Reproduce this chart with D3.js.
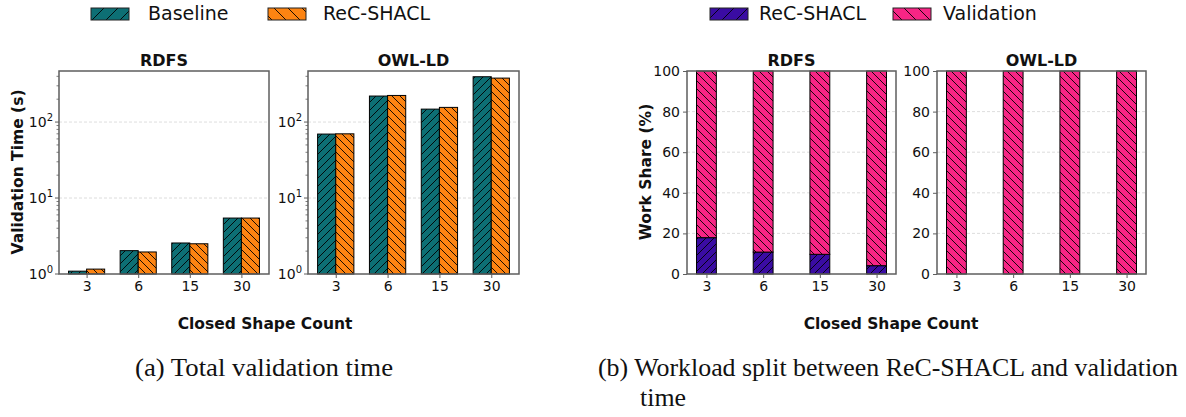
<!DOCTYPE html>
<html>
<head>
<meta charset="utf-8">
<script src="https://cdn.jsdelivr.net/npm/d3@7.9.0/dist/d3.min.js"></script>
<style>
  html, body { margin: 0; padding: 0; background: #fff; }
  svg text { font-family: "DejaVu Sans", sans-serif; fill: #111; }
  .caption { font-family: "Liberation Serif", "DejaVu Serif", serif; font-size: 25.5px; }
</style>
</head>
<body>
<svg width="1186" height="417"></svg>
<script>
// -------------------------
// Data
// -------------------------
const shapeCounts = ['3', '6', '15', '30'];

// (a) total validation time, seconds
const rdfsBaseline = [1.09, 2.03, 2.56, 5.45];
const rdfsRecShacl = [1.16, 1.95, 2.50, 5.45];
const owlBaseline = [69.5, 220, 148, 395];
const owlRecShacl = [70, 224, 156, 379];

// (b) work share, percent taken by ReC-SHACL (rest is validation)
const rdfsRecShare = [17.9, 10.8, 9.7, 4.1];
const owlRecShare = [0, 0, 0, 0];

const logTicks = [1, 10, 100];
const shareTicks = [0, 20, 40, 60, 80, 100];

// colours
const teal = '#0d6f74';
const orange = '#fd8412';
const purple = '#3a0ca3';
const pink = '#f72585';

const svg = d3.select('svg');
const defs = svg.append('defs');

// hatch patterns
function hatch(id, fill, dir, size) {
  const p = defs.append('pattern')
    .attr('id', id)
    .attr('patternUnits', 'userSpaceOnUse')
    .attr('width', size).attr('height', size);
  p.append('rect').attr('width', size).attr('height', size).attr('fill', fill);
  const s = size;
  const d = dir === '/'
    ? `M0,${s} L${s},0 M${-s / 4},${s / 4} L${s / 4},${-s / 4} M${s * 3 / 4},${s * 5 / 4} L${s * 5 / 4},${s * 3 / 4}`
    : `M0,0 L${s},${s} M${-s / 4},${s * 3 / 4} L${s / 4},${s * 5 / 4} M${s * 3 / 4},${-s / 4} L${s * 5 / 4},${s / 4}`;
  p.append('path').attr('d', d).attr('stroke', '#000').attr('stroke-width', 0.9);
}
hatch('h-teal', teal, '/', 8);
hatch('h-orange', orange, '\\', 8);
hatch('h-purple', purple, '/', 8);
hatch('h-pink', pink, '\\', 8);
hatch('l-teal', teal, '/', 14);
hatch('l-orange', orange, '\\', 14);
hatch('l-purple', purple, '/', 14);
hatch('l-pink', pink, '\\', 14);

const plotTop = 71, plotBottom = 274;
const spineColor = '#5e5e5e';

// -------------------------
// Helpers
// -------------------------
function frame(g, x0, x1, title) {
  g.append('rect')
    .attr('x', x0).attr('y', plotTop)
    .attr('width', x1 - x0).attr('height', plotBottom - plotTop)
    .attr('fill', 'none').attr('stroke', spineColor).attr('stroke-width', 1.5);
  g.append('text')
    .attr('x', (x0 + x1) / 2).attr('y', 66)
    .attr('text-anchor', 'middle')
    .style('font-size', '16px').style('font-weight', 'bold')
    .text(title);
}

function xAxis(g, x) {
  const ax = g.append('g')
    .attr('transform', `translate(0,${plotBottom})`)
    .call(d3.axisBottom(x).tickValues([0, 1, 2, 3]).tickFormat(i => shapeCounts[i]).tickSize(4).tickPadding(3));
  ax.select('.domain').remove();
  ax.selectAll('line').attr('stroke', spineColor);
  ax.selectAll('text').style('font-size', '14px').style('font-family', 'DejaVu Sans').attr('fill', '#111');
}

function grid(g, y, values, x0, x1) {
  g.selectAll(null).data(values).join('line')
    .attr('x1', x0).attr('x2', x1)
    .attr('y1', d => y(d)).attr('y2', d => y(d))
    .attr('stroke', '#d4d4d4').attr('stroke-width', 0.8)
    .attr('stroke-dasharray', '3,2');
}

// -------------------------
// (a) Total validation time
// -------------------------
const yLog = d3.scaleLog().domain([1, 470]).range([plotBottom, plotTop]);
const minorLog = [];
[1, 10, 100].forEach(dec => {
  for (let k = 2; k <= 9; k++) if (dec * k < 470) minorLog.push(dec * k);
});

function timePanel(x0, x1, title, base, rec) {
  const g = svg.append('g');
  const x = d3.scaleLinear().domain([-0.535, 3.535]).range([x0, x1]);
  const w = x(0.35) - x(0);
  grid(g, yLog, [10, 100], x0, x1);

  g.selectAll(null).data(base).join('rect')
    .attr('x', (d, i) => x(i - 0.35))
    .attr('y', d => yLog(d))
    .attr('width', w)
    .attr('height', d => plotBottom - yLog(d))
    .attr('fill', 'url(#h-teal)').attr('stroke', '#000').attr('stroke-width', 1);
  g.selectAll(null).data(rec).join('rect')
    .attr('x', (d, i) => x(i))
    .attr('y', d => yLog(d))
    .attr('width', w)
    .attr('height', d => plotBottom - yLog(d))
    .attr('fill', 'url(#h-orange)').attr('stroke', '#000').attr('stroke-width', 1);

  frame(g, x0, x1, title);
  xAxis(g, x);

  // y axis: major with 10^n labels, minor ticks
  const ay = g.append('g').attr('transform', `translate(${x0},0)`);
  ay.selectAll(null).data(minorLog).join('line')
    .attr('x1', -2.5).attr('x2', 0)
    .attr('y1', d => yLog(d)).attr('y2', d => yLog(d))
    .attr('stroke', spineColor).attr('stroke-width', 0.8);
  ay.selectAll(null).data(logTicks).join('line')
    .attr('x1', -4).attr('x2', 0)
    .attr('y1', d => yLog(d)).attr('y2', d => yLog(d))
    .attr('stroke', spineColor).attr('stroke-width', 1);
  const lab = ay.selectAll(null).data(logTicks).join('text')
    .attr('x', -6).attr('y', d => yLog(d) + 5)
    .attr('text-anchor', 'end')
    .style('font-size', '14px');
  lab.append('tspan').text('10');
  lab.append('tspan').attr('dy', -6).style('font-size', '10px').text(d => Math.round(Math.log10(d)));
}

timePanel(59, 269, 'RDFS', rdfsBaseline, rdfsRecShacl);
timePanel(308, 519, 'OWL-LD', owlBaseline, owlRecShacl);

svg.append('text')
  .attr('transform', 'translate(23,172) rotate(-90)')
  .attr('text-anchor', 'middle')
  .style('font-size', '15.5px').style('font-weight', 'bold')
  .text('Validation Time (s)');

// -------------------------
// (b) Work share
// -------------------------
const yShare = d3.scaleLinear().domain([0, 100]).range([plotBottom, plotTop]);

function sharePanel(x0, x1, title, recShare) {
  const g = svg.append('g');
  const x = d3.scaleLinear().domain([-0.3425, 3.3425]).range([x0, x1]);
  const w = x(0.35) - x(0);
  grid(g, yShare, [20, 40, 60, 80], x0, x1);

  g.selectAll(null).data(recShare).join('rect')
    .attr('x', (d, i) => x(i - 0.175))
    .attr('y', d => yShare(d))
    .attr('width', w)
    .attr('height', d => plotBottom - yShare(d))
    .attr('fill', 'url(#h-purple)').attr('stroke', '#000').attr('stroke-width', 1);
  g.selectAll(null).data(recShare).join('rect')
    .attr('x', (d, i) => x(i - 0.175))
    .attr('y', yShare(100))
    .attr('width', w)
    .attr('height', d => yShare(d) - yShare(100))
    .attr('fill', 'url(#h-pink)').attr('stroke', '#000').attr('stroke-width', 1);

  frame(g, x0, x1, title);
  xAxis(g, x);

  const ay = g.append('g')
    .attr('transform', `translate(${x0},0)`)
    .call(d3.axisLeft(yShare).tickValues(shareTicks).tickSize(4).tickPadding(3));
  ay.select('.domain').remove();
  ay.selectAll('line').attr('stroke', spineColor);
  ay.selectAll('text').style('font-size', '14px').style('font-family', 'DejaVu Sans').attr('fill', '#111');
}

sharePanel(687, 896, 'RDFS', rdfsRecShare);
sharePanel(937, 1146, 'OWL-LD', owlRecShare);

svg.append('text')
  .attr('transform', 'translate(651,172) rotate(-90)')
  .attr('text-anchor', 'middle')
  .style('font-size', '15.5px').style('font-weight', 'bold')
  .text('Work Share (%)');

// -------------------------
// Shared x labels, legends, captions
// -------------------------
[[265, 'Closed Shape Count'], [891, 'Closed Shape Count']].forEach(([cx, t]) => {
  svg.append('text')
    .attr('x', cx).attr('y', 329)
    .attr('text-anchor', 'middle')
    .style('font-size', '15.5px').style('font-weight', 'bold')
    .text(t);
});

const legendItems = [
  { x: 91, tx: 148, fill: 'url(#l-teal)', label: 'Baseline' },
  { x: 268, tx: 323, fill: 'url(#l-orange)', label: 'ReC-SHACL' },
  { x: 710, tx: 759, fill: 'url(#l-purple)', label: 'ReC-SHACL' },
  { x: 893, tx: 943, fill: 'url(#l-pink)', label: 'Validation' }
];
const leg = svg.append('g');
leg.selectAll(null).data(legendItems).join('rect')
  .attr('x', d => d.x).attr('y', 8)
  .attr('width', 38).attr('height', 12)
  .attr('fill', d => d.fill).attr('stroke', '#222').attr('stroke-width', 1);
leg.selectAll(null).data(legendItems).join('text')
  .attr('x', d => d.tx).attr('y', 20)
  .style('font-size', '19px')
  .text(d => d.label);

svg.append('text').attr('class', 'caption')
  .attr('x', 135).attr('y', 376)
  .attr('textLength', 258).attr('lengthAdjust', 'spacingAndGlyphs')
  .text('(a) Total validation time');
svg.append('text').attr('class', 'caption')
  .attr('x', 598).attr('y', 376)
  .attr('textLength', 580).attr('lengthAdjust', 'spacingAndGlyphs')
  .text('(b) Workload split between ReC-SHACL and validation');
svg.append('text').attr('class', 'caption')
  .attr('x', 640).attr('y', 406)
  .attr('textLength', 46).attr('lengthAdjust', 'spacingAndGlyphs')
  .text('time');
</script>
</body>
</html>
